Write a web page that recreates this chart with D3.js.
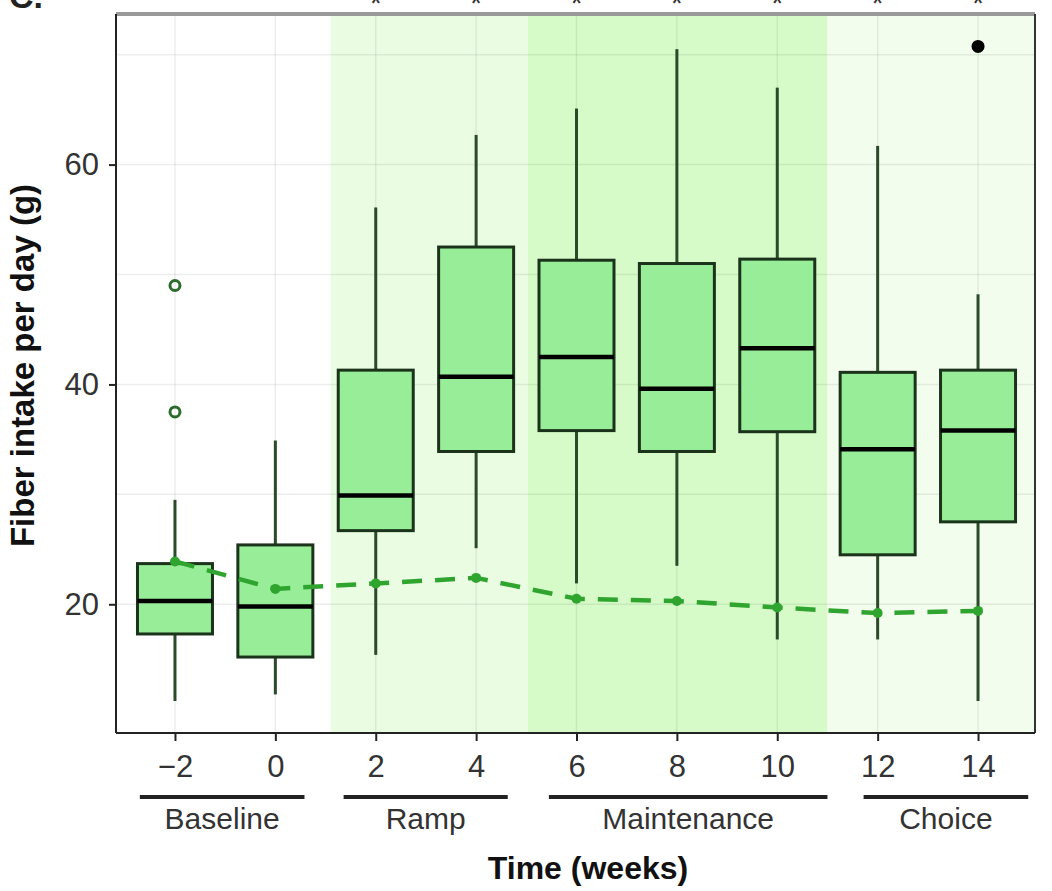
<!DOCTYPE html>
<html><head><meta charset="utf-8">
<script src="https://cdn.jsdelivr.net/npm/d3@7"></script>
<style>body{margin:0;background:#fff}svg{display:block}text{font-family:"Liberation Sans",Arial,sans-serif}</style>
</head><body><div id="chart"></div>
<script>
const weeks   = [-2, 0, 2, 4, 6, 8, 10, 12, 14];
const whiskLo = [11.2, 11.8, 15.4, 25.1, 21.9, 23.5, 16.8, 16.8, 11.2];
const q1      = [17.3, 15.2, 26.7, 33.9, 35.8, 33.9, 35.7, 24.5, 27.5];
const median  = [20.3, 19.8, 29.9, 40.7, 42.5, 39.6, 43.3, 34.1, 35.8];
const q3      = [23.7, 25.4, 41.3, 52.5, 51.3, 51.0, 51.4, 41.1, 41.3];
const whiskHi = [29.5, 34.9, 56.1, 62.7, 65.1, 70.5, 67.0, 61.7, 48.2];
const means   = [23.9, 21.4, 21.9, 22.4, 20.5, 20.3, 19.7, 19.2, 19.4];
const outlierWeeks  = [-2, -2];
const outlierValues = [49.0, 37.5];
const blackOutlierWeeks  = [14];
const blackOutlierValues = [70.75];
const starWeeks = [2, 4, 6, 8, 10, 12, 14];
const yTicks = [20, 40, 60];
const yMinor = [30, 50, 70];
const phaseNames  = ["Baseline", "Ramp", "Maintenance", "Choice"];
const phaseStart  = [-2.7, 1.36, 5.45, 11.72];
const phaseEnd    = [0.58, 4.63, 11.0, 15.0];
const shadeStart  = [1.1, 5.03, 11.0];
const shadeEnd    = [5.03, 11.0, 15.135];
const shadeColors = ["#eafce2", "#d6fbc8", "#f3fdee"];

const W = 1052, H = 891;
const P = {left:116, right:1035, top:14, bottom:733};
const svg = d3.select("#chart").append("svg").attr("width", W).attr("height", H);
const x = d3.scaleLinear().domain([-3.175, 15.135]).range([P.left, P.right]);
const y = d3.scaleLinear().domain([8.29, 73.7]).range([P.bottom, P.top]);

// shading
svg.selectAll("rect.shade").data(shadeStart).enter().append("rect")
  .attr("x", (d,i)=>x(d)).attr("width",(d,i)=>x(shadeEnd[i])-x(d))
  .attr("y", P.top).attr("height", P.bottom-P.top)
  .attr("fill", (d,i)=>shadeColors[i]);

// grid
const g = svg.append("g");
yMinor.concat(yTicks).forEach(v=>{
  g.append("line").attr("x1",P.left).attr("x2",P.right).attr("y1",y(v)).attr("y2",y(v))
   .attr("stroke","rgba(0,0,0,0.07)").attr("stroke-width",1.5);
});
weeks.forEach(v=>{
  g.append("line").attr("y1",P.top).attr("y2",P.bottom).attr("x1",x(v)).attr("x2",x(v))
   .attr("stroke","rgba(0,0,0,0.07)").attr("stroke-width",1.5);
});

// boxes
const bw = 37.5;
const bx = svg.append("g");
weeks.forEach((w,i)=>{
  const cx = x(w);
  bx.append("line").attr("x1",cx).attr("x2",cx).attr("y1",y(q3[i])).attr("y2",y(whiskHi[i]))
    .attr("stroke","#2a4a2a").attr("stroke-width",3);
  bx.append("line").attr("x1",cx).attr("x2",cx).attr("y1",y(q1[i])).attr("y2",y(whiskLo[i]))
    .attr("stroke","#2a4a2a").attr("stroke-width",3);
  bx.append("rect").attr("x",cx-bw).attr("width",bw*2).attr("y",y(q3[i])).attr("height",y(q1[i])-y(q3[i]))
    .attr("fill","#98ee98").attr("stroke","#1a331a").attr("stroke-width",3);
  bx.append("line").attr("x1",cx-bw).attr("x2",cx+bw).attr("y1",y(median[i])).attr("y2",y(median[i]))
    .attr("stroke","#000").attr("stroke-width",4.5);
});
outlierWeeks.forEach((w,i)=>{
  bx.append("circle").attr("cx",x(w)).attr("cy",y(outlierValues[i])).attr("r",5)
    .attr("fill","none").attr("stroke","#2d6b2d").attr("stroke-width",3);
});
blackOutlierWeeks.forEach((w,i)=>{
  bx.append("circle").attr("cx",x(w)).attr("cy",y(blackOutlierValues[i])).attr("r",6.5).attr("fill","#000");
});

// mean line
const line = d3.line().x((d,i)=>x(weeks[i])).y(d=>y(d));
svg.append("path").datum(means).attr("d",line).attr("fill","none")
  .attr("stroke","#2fa52f").attr("stroke-width",4.5).attr("stroke-dasharray","20,13");
svg.selectAll("circle.mean").data(means).enter().append("circle")
  .attr("cx",(d,i)=>x(weeks[i])).attr("cy",d=>y(d)).attr("r",5).attr("fill","#2fa52f");

// borders
svg.append("line").attr("x1",P.left).attr("x2",P.right).attr("y1",P.top).attr("y2",P.top).attr("stroke","#9a9a9a").attr("stroke-width",4);
svg.append("line").attr("x1",P.left).attr("x2",P.left).attr("y1",P.top).attr("y2",P.bottom).attr("stroke","#222").attr("stroke-width",2);
svg.append("line").attr("x1",P.right).attr("x2",P.right).attr("y1",P.top).attr("y2",P.bottom).attr("stroke","#333").attr("stroke-width",2);
svg.append("line").attr("x1",P.left).attr("x2",P.right).attr("y1",P.bottom).attr("y2",P.bottom).attr("stroke","#222").attr("stroke-width",2);

// axes
const yAxis = svg.append("g").attr("transform",`translate(${P.left},0)`)
  .call(d3.axisLeft(y).tickValues(yTicks).tickSize(7).tickPadding(10).tickFormat(d3.format("d")));
yAxis.select(".domain").remove();
yAxis.selectAll("line").attr("stroke","#222").attr("stroke-width",2);
yAxis.selectAll("text").attr("font-size",31).attr("fill","#333");

const xAxis = svg.append("g").attr("transform",`translate(0,${P.bottom})`)
  .call(d3.axisBottom(x).tickValues(weeks).tickSize(8).tickPadding(14).tickFormat(d=> d<0 ? "\u2212"+Math.abs(d) : d));
xAxis.select(".domain").remove();
xAxis.selectAll("line").attr("stroke","#222").attr("stroke-width",2);
xAxis.selectAll("text").attr("font-size",31).attr("fill","#333");

// phase bars and labels
phaseNames.forEach((n,i)=>{
  svg.append("line").attr("x1",x(phaseStart[i])).attr("x2",x(phaseEnd[i])).attr("y1",797).attr("y2",797)
    .attr("stroke","#222").attr("stroke-width",4);
  svg.append("text").attr("x",(x(phaseStart[i])+x(phaseEnd[i]))/2).attr("y",829)
    .attr("text-anchor","middle").attr("font-size",30).attr("fill","#333").text(n);
});

// titles
svg.append("text").attr("x",588).attr("y",879).attr("text-anchor","middle")
  .attr("font-size",32).attr("font-weight","bold").attr("fill","#111").text("Time (weeks)");
svg.append("text").attr("transform",`translate(34,${(P.top+P.bottom)/2 - 8}) rotate(-90)`)
  .attr("text-anchor","middle").attr("font-size",33).attr("font-weight","bold").attr("fill","#111")
  .text("Fiber intake per day (g)");

// panel tag and significance stars (cropped at top as in the source)
svg.append("text").attr("x",9).attr("y",8).attr("font-size",34).attr("font-weight","bold").attr("fill","#222").text("C.");
starWeeks.forEach(w=>{
  svg.append("text").attr("x",x(w)).attr("y",13).attr("text-anchor","middle")
    .attr("font-size",30).attr("fill","#333").text("*");
});
</script></body></html>
